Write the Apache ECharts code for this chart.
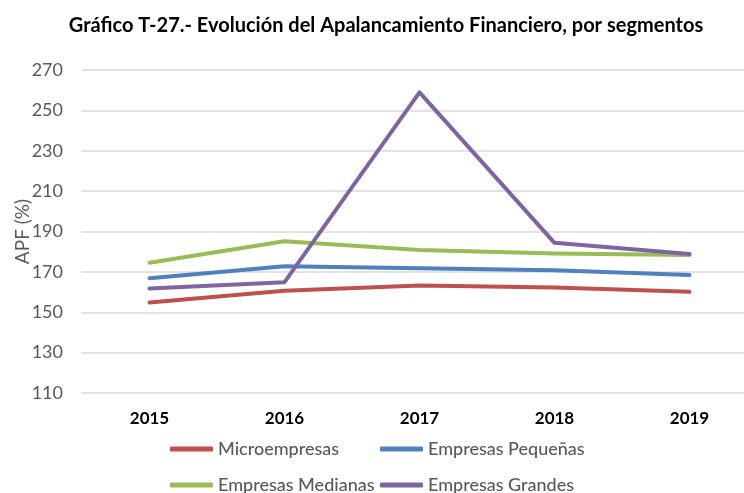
<!DOCTYPE html>
<html>
<head>
<meta charset="utf-8">
<script src="https://cdn.jsdelivr.net/npm/echarts@6/dist/echarts.min.js"></script>
<style>
  html, body { margin: 0; padding: 0; background: #fff; }
  #chart { width: 744px; height: 493px; }
</style>
</head>
<body>
<div id="chart"></div>
<script>
// datos
var years = ['2015', '2016', '2017', '2018', '2019'];
var micro = [154.8, 160.6, 163.2, 162.3, 160.1];
var pequenas = [166.9, 172.8, 171.8, 170.8, 168.4];
var medianas = [174.5, 185.2, 180.8, 179.1, 178.3];
var grandes = [161.8, 164.9, 258.9, 184.4, 178.9];
var yTicks = [110, 130, 150, 170, 190, 210, 230, 250, 270];

var names = ['Microempresas', 'Empresas Pequeñas', 'Empresas Medianas', 'Empresas Grandes'];
var colors = ['#C0504D', '#4F81BD', '#9BBB59', '#8064A2'];
var values = [micro, pequenas, medianas, grandes];

var font = 'Lato, "Open Sans", sans-serif';

var chart = echarts.init(document.getElementById('chart'));

function makeSeries(i) {
    return {
        name: names[i],
        type: 'line',
        data: values[i],
        showSymbol: false,
        symbol: 'none',
        smooth: false,
        lineStyle: { width: 4, color: colors[i], cap: 'round', join: 'round' },
        itemStyle: { color: colors[i] },
        emphasis: { disabled: true }
    };
}

function makeLegend(i, left, top) {
    return {
        data: [names[i]],
        left: left,
        top: top,
        icon: 'roundRect',
        itemWidth: 43,
        itemHeight: 5,
        padding: 0,
        textStyle: { fontFamily: font, fontSize: 18, fontWeight: 500, color: '#595959' }
    };
}

var option = {
    animation: false,
    title: {
        text: 'Gráfico T-27.- Evolución del Apalancamiento Financiero, por segmentos',
        left: 381,
        textAlign: 'center',
        top: 11,
        textStyle: { fontFamily: font, fontSize: 20, fontWeight: 'bold', color: '#000' }
    },
    legend: [
        makeLegend(0, 170, 440),
        makeLegend(1, 380, 440),
        makeLegend(2, 170, 476),
        makeLegend(3, 380, 476)
    ],
    grid: {
        left: 82,
        top: 70,
        width: 675,
        height: 323,
        outerBoundsMode: 'none'
    },
    xAxis: {
        type: 'category',
        data: years,
        boundaryGap: true,
        axisLine: { show: false },
        axisTick: { show: false },
        axisLabel: { fontFamily: font, fontSize: 17, fontWeight: 'bold', color: '#000', margin: 17 }
    },
    yAxis: {
        type: 'value',
        min: yTicks[0],
        max: yTicks[yTicks.length - 1],
        interval: 20,
        name: 'APF (%)',
        nameLocation: 'middle',
        nameGap: 50,
        nameRotate: 90,
        nameMoveOverlap: false,
        nameTextStyle: { fontFamily: font, fontSize: 19, color: '#595959' },
        axisLine: { show: false },
        axisTick: { show: false },
        axisLabel: { fontFamily: font, fontSize: 18, color: '#595959', margin: 19 },
        splitLine: { lineStyle: { color: '#d9d9d9', width: 1.5 } }
    },
    series: [makeSeries(0), makeSeries(1), makeSeries(2), makeSeries(3)]
};

chart.setOption(option);
</script>
</body>
</html>
